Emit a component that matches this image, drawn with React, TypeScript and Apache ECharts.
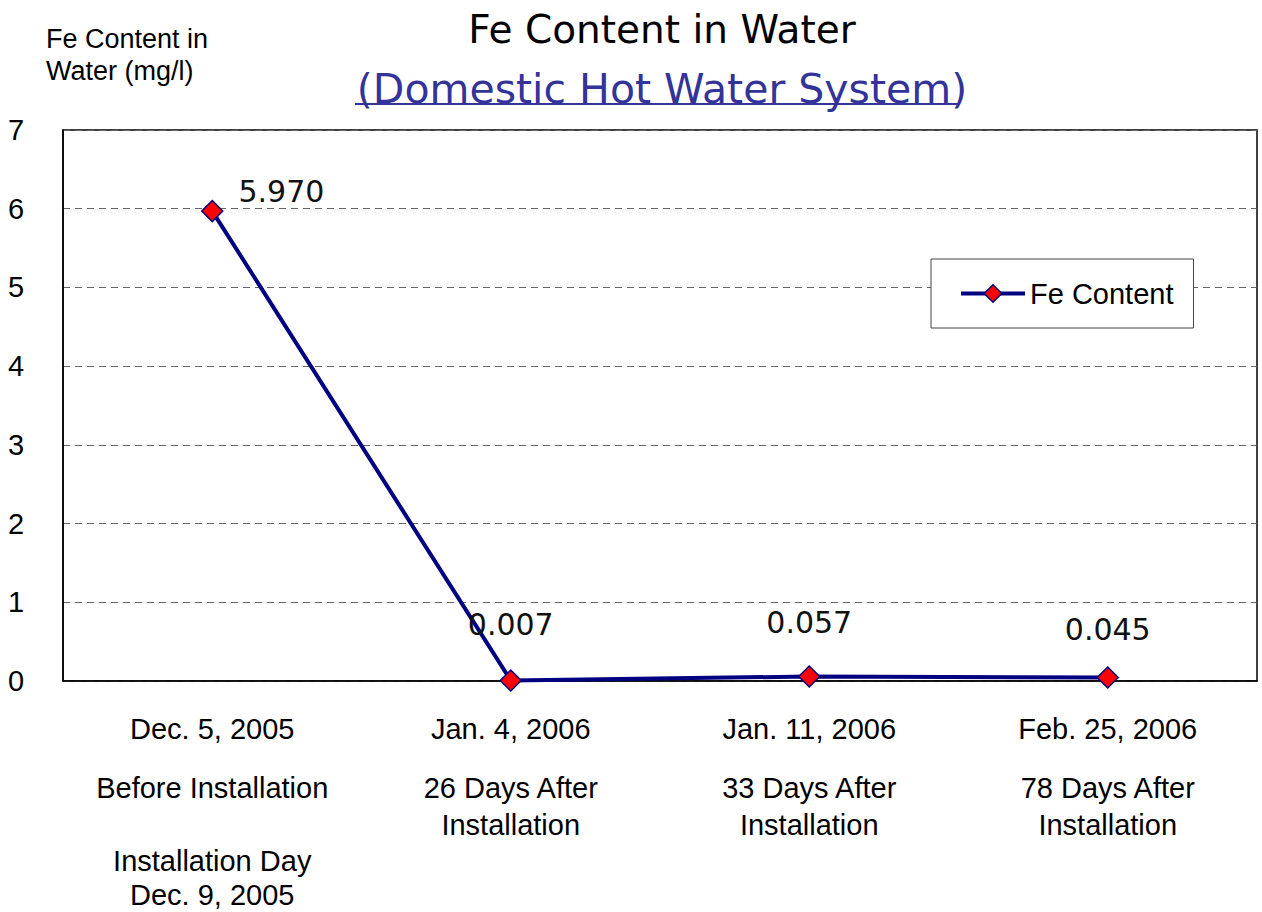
import React, { useEffect, useRef } from "react";
import * as echarts from "echarts";

const dates = ["Dec. 5, 2005", "Jan. 4, 2006", "Jan. 11, 2006", "Feb. 25, 2006"];
const stages = [
  ["Before Installation"],
  ["26 Days After", "Installation"],
  ["33 Days After", "Installation"],
  ["78 Days After", "Installation"],
];
const notes = [["Installation Day", "Dec. 9, 2005"], [], [], []];
const feValues = [5.97, 0.007, 0.057, 0.045];
const yTicks = [0, 1, 2, 3, 4, 5, 6, 7];
const seriesName = "Fe Content";
const titleText = "Fe Content in Water";
const subtitleText = "(Domestic Hot Water System)";
const yAxisTitle = ["Fe Content in", "Water (mg/l)"];

const labelLayouts: any[] = [
  { position: "right", offset: [10, -20] },
  { position: "top", distance: 30 },
  { position: "top", distance: 28 },
  { position: "top", distance: 22 },
];

function buildLabel(i: number): string {
  const parts: string[] = [];
  parts.push(`{t|${dates[i]}}`);
  parts.push(`{s1|}`);
  stages[i].forEach((l) => parts.push(`{t|${l}}`));
  if (notes[i].length) {
    parts.push(`{s2|}`);
    notes[i].forEach((l) => parts.push(`{n|${l}}`));
  }
  return parts.join("\n");
}

export default function App() {
  const ref = useRef<HTMLDivElement>(null);
  useEffect(() => {
    if (!ref.current) return;
    const chart = echarts.init(ref.current, undefined, { renderer: "svg" });
    const sans = "Liberation Sans, Arial, sans-serif";
    const titleFont = "DejaVu Sans, Verdana, sans-serif";
    chart.setOption({
      animation: false,
      backgroundColor: "#ffffff",
      title: [
        {
          text: titleText,
          left: 657,
          top: 5,
          textAlign: "center",
          textStyle: { fontFamily: titleFont, fontSize: 39, fontWeight: "normal", color: "#000" },
        },
        {
          text: subtitleText,
          left: 657,
          top: 63,
          textAlign: "center",
          textStyle: { fontFamily: titleFont, fontSize: 41, fontWeight: "normal", color: "#333399" },
        },
      ],
      graphic: [
        {
          type: "line",
          shape: { x1: 355, y1: 104, x2: 960, y2: 104 },
          style: { stroke: "#333399", lineWidth: 2 },
        },
        {
          type: "text",
          left: 46,
          top: 23,
          style: {
            text: yAxisTitle.join("\n"),
            fontFamily: sans,
            fontSize: 27,
            lineHeight: 32,
            fill: "#000",
          },
        },
      ],
      legend: {
        show: true,
        data: [seriesName],
        left: 931,
        top: 259,
        padding: [20, 20, 20, 28],
        backgroundColor: "#fff",
        borderColor: "#444",
        borderWidth: 1,
        borderRadius: 0,
        itemWidth: 64,
        itemHeight: 22,
        itemGap: 6,
        itemStyle: { color: "#ff0000", borderColor: "#000080", borderWidth: 1.5 },
        lineStyle: { color: "#000080", width: 4 },
        textStyle: { fontFamily: sans, fontSize: 29, color: "#000" },
      },
      grid: {
        left: 63,
        right: 5,
        top: 130,
        bottom: 231,
        show: true,
        borderColor: "#000",
        borderWidth: 1.5,
        backgroundColor: "#fff",
      },
      xAxis: {
        type: "category",
        data: dates.map((_, i) => buildLabel(i)),
        boundaryGap: true,
        axisLine: { show: true, lineStyle: { color: "#000", width: 1.5 } },
        axisTick: { show: false },
        splitLine: { show: false },
        axisLabel: {
          interval: 0,
          margin: 29,
          color: "#000",
          fontFamily: sans,
          fontSize: 29,
          align: "center",
          rich: {
            t: { fontFamily: sans, fontSize: 29, lineHeight: 37, color: "#000", align: "center" },
            n: { fontFamily: sans, fontSize: 29, lineHeight: 34, color: "#000", align: "center" },
            s1: { fontSize: 10, lineHeight: 22 },
            s2: { fontSize: 10, lineHeight: 38 },
          },
        },
      },
      yAxis: {
        type: "value",
        min: 0,
        max: 7,
        interval: 1,
        axisLine: { show: true, lineStyle: { color: "#000", width: 1.5 } },
        axisTick: { show: false },
        axisLabel: {
          margin: 55,
          align: "left",
          color: "#000",
          fontFamily: sans,
          fontSize: 29,
          formatter: (v: number) => (yTicks.includes(v) ? String(v) : ""),
        },
        splitLine: {
          show: true,
          lineStyle: { color: "#666", type: [7, 5], width: 1 },
        },
      },
      series: [
        {
          name: seriesName,
          type: "line",
          data: feValues.map((v, i) => ({
            value: v,
            label: { show: true, ...labelLayouts[i] },
          })),
          symbol: "diamond",
          symbolSize: 21,
          lineStyle: { color: "#000080", width: 4 },
          itemStyle: { color: "#ff0000", borderColor: "#000080", borderWidth: 1.5 },
          label: {
            show: true,
            fontFamily: titleFont,
            fontSize: 30,
            color: "#111",
            formatter: (p: any) => Number(p.value).toFixed(3),
          },
          emphasis: { disabled: true },
          z: 5,
        },
      ],
    });
    return () => chart.dispose();
  }, []);
  return (
    <div
      ref={ref}
      style={{ position: "fixed", left: 0, top: 0, width: 1262, height: 912, background: "#fff" }}
    />
  );
}
